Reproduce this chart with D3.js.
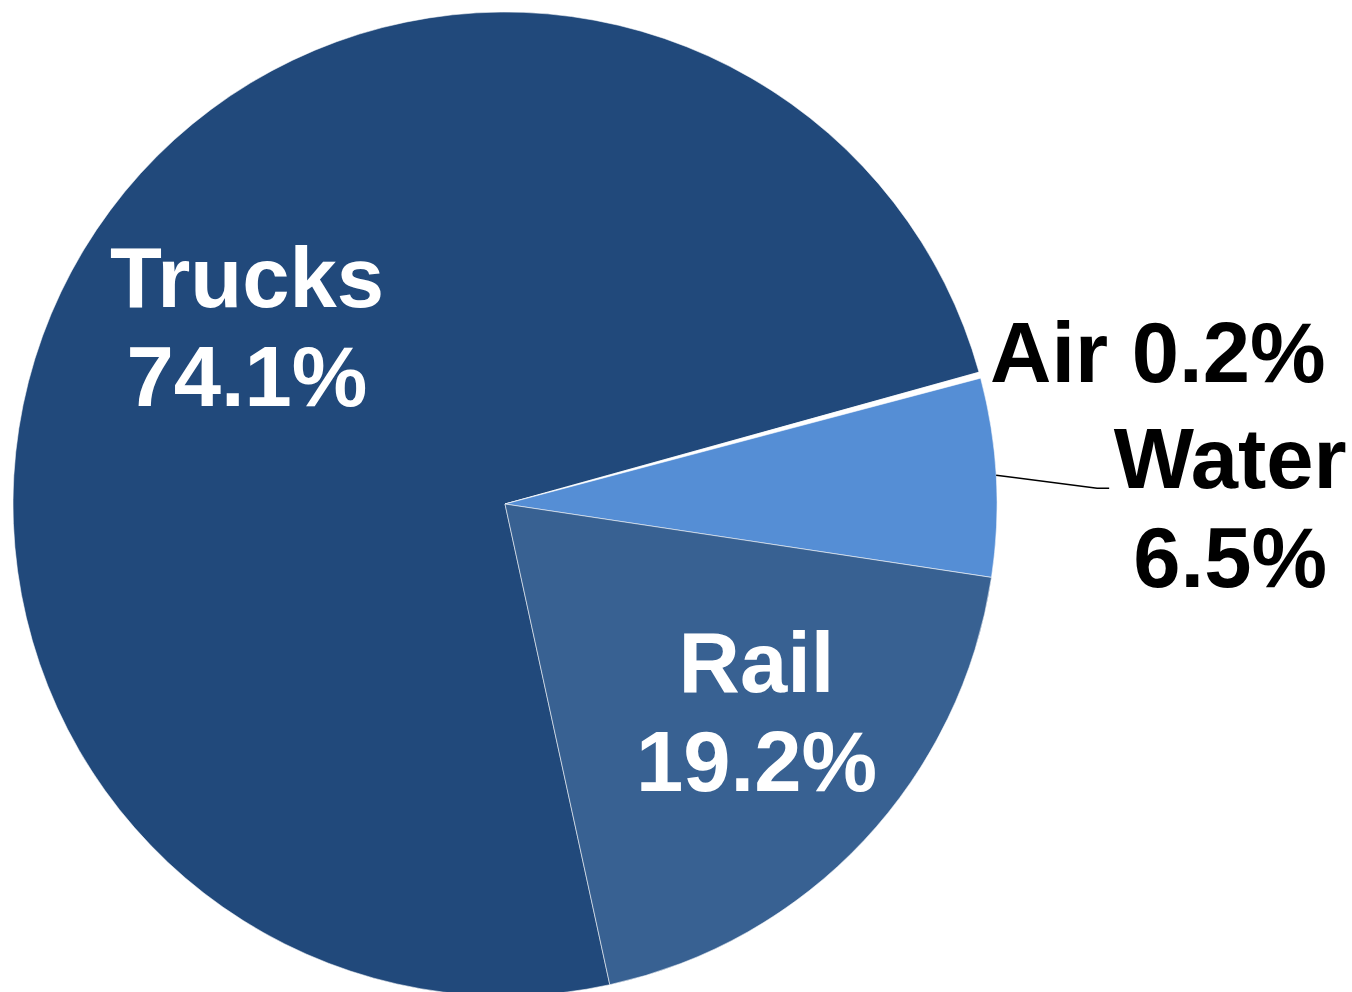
<!DOCTYPE html>
<html>
<head>
<meta charset="utf-8">
<script src="https://cdn.jsdelivr.net/npm/d3@7"></script>
<style>
  html, body { margin: 0; padding: 0; background: #fff; overflow: hidden; }
  text { font-family: "Liberation Sans", Arial, sans-serif; font-weight: bold; }
</style>
</head>
<body>
<script>
const WIDTH = 1352
const HEIGHT = 992

// slices, clockwise in the order they are drawn
const NAMES = ['Trucks', 'Air', 'Water', 'Rail']
const VALUES = [74.1, 0.2, 6.5, 19.2]
const COLORS = ['#21497b', '#ffffff', '#558ed5', '#386192']

const CX = 505
const CY = 504
const RADIUS = 492
const START = 167.7 * Math.PI / 180

const svg = d3.select('body')
  .append('svg')
  .attr('width', WIDTH)
  .attr('height', HEIGHT)

const DATA = NAMES.map((name, i) => ({ name, value: VALUES[i], color: COLORS[i] }))

const pieData = d3.pie()
  .sort(null)
  .value(d => d.value)
  .startAngle(START)
  .endAngle(START + 2 * Math.PI)(DATA)

const arcCreator = d3.arc()
  .innerRadius(0)
  .outerRadius(RADIUS)

const labelArc = d3.arc()
  .innerRadius(320)
  .outerRadius(320)

const pie = svg.append('g')
  .attr('transform', `translate(${CX}, ${CY})`)

pie.selectAll('path')
  .data(pieData)
  .enter()
  .append('path')
  .attr('d', arcCreator)
  .attr('fill', d => d.data.color)
  .attr('stroke', 'rgba(255,255,255,0.55)')
  .attr('stroke-width', 1)

const FONT = 85
const LINE = 99

// labels inside the big slices
const inside = { Trucks: [16, -12], Rail: [18, -11] }
pieData.filter(d => inside[d.data.name]).forEach(d => {
  const [x, y] = labelArc.centroid(d)
  const [ox, oy] = inside[d.data.name]
  const t = pie.append('text')
    .attr('text-anchor', 'middle')
    .attr('fill', '#fff')
    .attr('font-size', FONT)
  t.append('tspan')
    .attr('x', x + ox)
    .attr('y', y + oy - LINE / 2 + 30)
    .text(d.data.name)
  t.append('tspan')
    .attr('x', x + ox)
    .attr('y', y + oy + LINE / 2 + 30)
    .text(d3.format('.1f')(d.data.value) + '%')
})

// outside labels
const air = pieData.find(d => d.data.name === 'Air')
const airPt = d3.pointRadial((air.startAngle + air.endAngle) / 2, RADIUS)
pie.append('text')
  .attr('x', airPt[0] + 178)
  .attr('y', airPt[1] + 7)
  .attr('text-anchor', 'middle')
  .attr('font-size', FONT)
  .attr('fill', '#000')
  .text(`Air ${d3.format('.1f')(air.data.value)}%`)

const water = pieData.find(d => d.data.name === 'Water')
const wPt = d3.pointRadial((water.startAngle + water.endAngle) / 2 - 0.004, RADIUS)
const wLabelX = wPt[0] + 234
const wText = pie.append('text')
  .attr('text-anchor', 'middle')
  .attr('font-size', FONT)
  .attr('fill', '#000')
wText.append('tspan')
  .attr('x', wLabelX)
  .attr('y', wPt[1] + 13)
  .text('Water')
wText.append('tspan')
  .attr('x', wLabelX)
  .attr('y', wPt[1] + 13 + LINE)
  .text(d3.format('.1f')(water.data.value) + '%')

pie.append('path')
  .attr('d', d3.line()([
    [wPt[0], wPt[1]],
    [wPt[0] + 101, wPt[1] + 13],
    [wPt[0] + 113, wPt[1] + 13]
  ]))
  .attr('fill', 'none')
  .attr('stroke', '#000')
  .attr('stroke-width', 1.5)
</script>
</body>
</html>
